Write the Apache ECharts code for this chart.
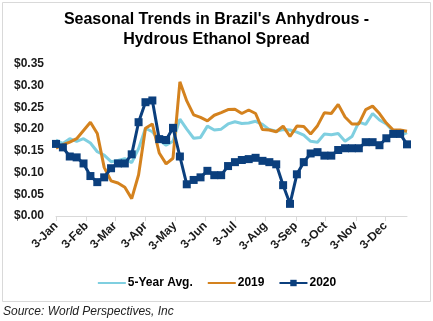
<!DOCTYPE html>
<html>
<head>
<meta charset="utf-8">
<script src="https://cdn.jsdelivr.net/npm/echarts@6/dist/echarts.min.js"></script>
<style>
html,body{margin:0;padding:0;background:#fff;}
#chart{width:433px;height:321px;}
</style>
</head>
<body>
<div id="chart"></div>
<script>
// Weekly observation dates (plotted on a common seasonal calendar)
var weekDates = [
 "2020-01-03","2020-01-10","2020-01-17","2020-01-24","2020-01-31",
 "2020-02-07","2020-02-14","2020-02-21","2020-02-28",
 "2020-03-06","2020-03-13","2020-03-20","2020-03-27",
 "2020-04-03","2020-04-10","2020-04-17","2020-04-24",
 "2020-05-01","2020-05-08","2020-05-15","2020-05-22","2020-05-29",
 "2020-06-05","2020-06-12","2020-06-19","2020-06-26",
 "2020-07-03","2020-07-10","2020-07-17","2020-07-24","2020-07-31",
 "2020-08-07","2020-08-14","2020-08-21","2020-08-28",
 "2020-09-04","2020-09-11","2020-09-18","2020-09-25",
 "2020-10-02","2020-10-09","2020-10-16","2020-10-23","2020-10-30",
 "2020-11-06","2020-11-13","2020-11-20","2020-11-27",
 "2020-12-04","2020-12-11","2020-12-18","2020-12-25"
];
var fiveYearAvg = [
 0.175,0.167,0.178,0.172,0.178,
 0.168,0.148,0.140,0.125,
 0.128,0.132,0.123,0.155,
 0.202,0.194,0.175,0.163,
 0.172,0.223,0.200,0.179,0.181,
 0.207,0.198,0.200,0.212,
 0.217,0.213,0.214,0.218,0.211,
 0.199,0.195,0.199,0.198,
 0.193,0.186,0.172,0.170,
 0.189,0.187,0.190,0.172,0.183,
 0.216,0.211,0.236,0.221,
 0.212,0.195,0.185,0.192
];
var y2019 = [
 0.156,0.164,0.170,0.178,0.197,
 0.216,0.190,0.112,0.081,
 0.076,0.066,0.040,0.095,
 0.202,0.212,0.145,0.120,
 0.133,0.309,0.265,0.233,0.227,
 0.219,0.232,0.238,0.245,
 0.246,0.236,0.244,0.236,0.199,
 0.198,0.194,0.207,0.183,
 0.207,0.206,0.189,0.208,
 0.238,0.236,0.257,0.228,0.212,
 0.212,0.245,0.253,0.236,
 0.214,0.198,0.198,0.195
];
var y2020 = [
 0.166,0.158,0.137,0.135,0.121,
 0.092,0.078,0.089,0.110,
 0.121,0.121,0.142,0.216,
 0.262,0.266,0.177,0.175,
 0.203,0.137,0.073,0.083,0.089,
 0.104,0.094,0.094,0.115,
 0.124,0.129,0.131,0.134,0.127,
 0.124,0.119,0.071,0.028,
 0.096,0.124,0.144,0.147,
 0.139,0.139,0.152,0.156,0.156,
 0.156,0.170,0.170,0.163,
 0.179,0.189,0.189,0.165
];
var seriesNames = ["5-Year Avg.", "2019", "2020"];
var monthNames = ["Jan","Feb","Mar","Apr","May","Jun","Jul","Aug","Sep","Oct","Nov","Dec"];
var yTicks = {min: 0, max: 0.35, interval: 0.05};

// Daily calendar categories spanning the first to last observation
function pad(n){return (n<10?"0":"")+n;}
var days = [];
(function(){
  var d = new Date(Date.UTC(2020,0,3));
  var end = new Date(Date.UTC(2020,11,25));
  while (d <= end) {
    days.push(d.getUTCFullYear()+"-"+pad(d.getUTCMonth()+1)+"-"+pad(d.getUTCDate()));
    d = new Date(d.getTime()+86400000);
  }
})();
function pairs(vals){ return weekDates.map(function(dt,i){ return [dt, vals[i]]; }); }
function isThird(idx, val){ return val.slice(8,10) === "03"; }

var FONT = "Liberation Sans, Arial, sans-serif";
var chart = echarts.init(document.getElementById('chart'), null, {renderer:'canvas'});
chart.setOption({
  animation: false,
  backgroundColor: '#ffffff',
  textStyle: {fontFamily: FONT},
  graphic: [
    {type:'rect', shape:{x:2.5,y:2.5,width:428,height:299}, style:{fill:'none', stroke:'#d9d9d9', lineWidth:1}, z:-1},
    {type:'text', left:3, top:306, style:{text:'Source: World Perspectives, Inc', font:'italic 12px ' + FONT, fill:'#222'}}
  ],
  title: {
    text: "Seasonal Trends in Brazil's Anhydrous -\nHydrous Ethanol Spread",
    left: 'center', top: 5,
    textStyle: {fontSize: 16, fontWeight: 'bold', color: '#000', lineHeight: 20, fontFamily: FONT, align: 'center'}
  },
  legend: {
    left: 'center', top: 272,
    itemWidth: 28, itemHeight: 8, itemGap: 14,
    textStyle: {fontSize: 12, fontWeight: 'bold', color: '#000', fontFamily: FONT, padding:[0,0,0,-3]},
    data: [
      {name: seriesNames[0], itemStyle: {opacity: 0}},
      {name: seriesNames[1], itemStyle: {opacity: 0}},
      {name: seriesNames[2]}
    ]
  },
  grid: {left: 56, right: 26, top: 64, bottom: 105, containLabel: false},
  xAxis: {
    type: 'category',
    data: days,
    boundaryGap: false,
    axisLine: {lineStyle: {color: '#d9d9d9', width: 1}},
    axisTick: {show: true, interval: isThird, length: 5, lineStyle: {color: '#d9d9d9'}},
    axisLabel: {
      interval: isThird, rotate: 45, margin: 8,
      fontSize: 12, fontWeight: 'bold', color: '#1a1a1a', fontFamily: FONT,
      formatter: function(v){ return parseInt(v.slice(8,10),10) + "-" + monthNames[parseInt(v.slice(5,7),10)-1]; }
    },
    splitLine: {show: false}
  },
  yAxis: {
    type: 'value',
    min: yTicks.min, max: yTicks.max, interval: yTicks.interval,
    axisLine: {show: false}, axisTick: {show: false},
    splitLine: {show: false},
    axisLabel: {
      margin: 12, fontSize: 12, fontWeight: 'bold', color: '#1a1a1a', fontFamily: FONT,
      formatter: function(v){ return '$' + v.toFixed(2); }
    }
  },
  series: [
    {name: seriesNames[0], type: 'line', data: pairs(fiveYearAvg), showSymbol: false, symbol: 'none',
     lineStyle: {color: '#7fcfe0', width: 3}, itemStyle: {color: '#7fcfe0'}, z: 2},
    {name: seriesNames[1], type: 'line', data: pairs(y2019), showSymbol: false, symbol: 'none',
     lineStyle: {color: '#d4821e', width: 3}, itemStyle: {color: '#d4821e'}, z: 3},
    {name: seriesNames[2], type: 'line', data: pairs(y2020), symbol: 'rect', symbolSize: 8, showSymbol: true, showAllSymbol: true,
     lineStyle: {color: '#0b3f7d', width: 3}, itemStyle: {color: '#0b3f7d'}, z: 4}
  ]
});
</script>
</body>
</html>
